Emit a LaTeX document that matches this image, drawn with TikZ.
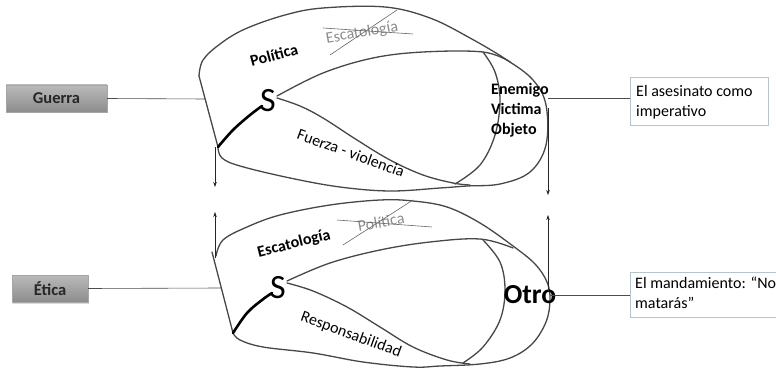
\documentclass[tikz,border=0pt]{standalone}
\usepackage{fontspec}
\setmainfont{Carlito}
\usetikzlibrary{arrows.meta,shadows}
\begin{document}
\begin{tikzpicture}[x=1pt,y=-1pt,
  contour/.style={draw=black!72, line width=1.3pt, line join=round, line cap=round},
  thickstroke/.style={draw=black, line width=2.6pt, line cap=round},
  txt/.style={font=\fontsize{16}{20}\selectfont, inner sep=0pt},
  btxt/.style={font=\fontsize{16}{20}\selectfont\bfseries, inner sep=0pt},
  gtxt/.style={font=\fontsize{16}{20}\selectfont, text=black!45, inner sep=0pt},
  gbox/.style={draw=black!35, top color=black!27, bottom color=black!45, minimum height=27pt,
     font=\fontsize{16.5}{20}\selectfont\bfseries, text=black!85, inner sep=0pt,
     drop shadow={shadow xshift=1pt, shadow yshift=-1.5pt, opacity=0.3}},
  wbox/.style={draw=black!12!cyan!25!gray!55, fill=white, line width=0.8pt},
  arr/.style={draw=black!85, line width=0.6pt, -{Stealth[length=5pt,width=3.5pt]}},
  conn/.style={draw=black!70, line width=0.6pt},
  cross/.style={draw=black!60, line width=0.6pt}
]
\useasboundingbox (0,0) rectangle (776,374);

% ---------- top shape (Guerra) ----------
\draw[contour] (218,147) -- (199,76);
\draw[contour] plot[smooth,tension=0.6] coordinates {(199,76) (203,60) (220,44) (245,29) (285,15) (323,8) (385,7) (430,18) (470,38) (507,60) (533,80) (546,105) (546,145) (530,172) (500,184) (467,186) (440,188) (390,191) (340,187) (290,178) (240,166) (222,158) (218,148)};
\draw[contour] plot[smooth,tension=0.6] coordinates {(277,96) (323,73) (373,58) (423,52) (483,52) (510,62)};
\draw[contour] plot[smooth,tension=0.6] coordinates {(277,98) (300,106) (323,118) (357,140) (390,160) (423,175) (453,183) (470,185)};
\draw[contour] plot[smooth,tension=0.6] coordinates {(483,52) (495,72) (500,100) (495,135) (480,165) (455,184)};
\draw[thickstroke] plot[smooth,tension=0.6] coordinates {(218,147) (233,130) (250,115) (262,106)};

\node[font=\fontsize{34}{34}\selectfont, inner sep=0pt] (s1) at (268,101) {S};
\node[btxt, rotate=15] (pol1) at (274,55) {Política};
\node[gtxt, rotate=10] (esc1) at (362,33) {Escatología};
\draw[cross] (323,28) -- (413,34);
\draw[cross] (330,55) -- (397,10);
\node[txt, rotate=-20] (fv) at (351,153) {Fuerza - violencia};
\node[btxt, anchor=west, align=left] (ene) at (491,110) {Enemigo\\Victima\\Objeto};

% ---------- bottom shape (Ética) ----------
\draw[contour] (233,333) -- (212,252);
\draw[contour] plot[smooth,tension=0.6] coordinates {(216,256) (223,240) (247,227) (280,215) (330,205) (380,200) (413,201) (447,207) (480,223) (513,246) (535,264) (547,282) (550,300) (546,322) (532,344) (510,358) (480,364) (440,366) (413,367) (363,362) (313,353) (263,347) (240,340) (233,333)};
\draw[contour] plot[smooth,tension=0.6] coordinates {(287,281) (330,263) (380,250) (430,242) (480,239) (513,248)};
\draw[contour] plot[smooth,tension=0.6] coordinates {(287,283) (313,291) (347,307) (380,327) (413,347) (447,360) (470,364)};
\draw[contour] plot[smooth,tension=0.6] coordinates {(483,240) (500,262) (505,290) (500,320) (483,347) (463,363)};
\draw[thickstroke] plot[smooth,tension=0.6] coordinates {(233,333) (247,313) (262,300) (272,293)};

\node[font=\fontsize{34}{34}\selectfont, inner sep=0pt] (s2) at (278,288) {S};
\node[btxt, rotate=14] (esc2) at (294,244) {Escatología};
\node[gtxt, rotate=10] (pol2) at (381,222) {Política};
\draw[cross] (337,220) -- (432,227);
\draw[cross] (343,245) -- (413,200);
\node[txt, rotate=-20] (resp) at (351,335) {Responsabilidad};
\node[font=\fontsize{27.5}{27.5}\selectfont\bfseries, inner sep=0pt] (otro) at (530,295) {Otro};

% ---------- boxes ----------
\node[gbox, minimum width=101pt] (guerra) at (56.5,98.5) {Guerra};
\node[gbox, minimum width=76pt] (etica) at (50,288.5) {Ética};
\node[wbox, minimum width=138pt, minimum height=48pt] (b1) at (699,101) {};
\node[txt, anchor=west, align=left] (t1) at (636,102) {El asesinato como\\imperativo};
\node[wbox, minimum width=160pt, minimum height=45pt] (b2) at (710,294.5) {};
\node[txt, anchor=west, align=left] (t2) at (635,293) {El mandamiento: “No\\matarás”};

% ---------- connectors ----------
\coordinate (gl) at (205,99);
\coordinate (el) at (221,288);
\coordinate (er) at (548,98);
\coordinate (orr) at (550,295);
\draw[conn] (guerra.east) -- (gl);
\draw[conn] (etica.east) -- (el);
\draw[conn] (er) -- (b1.west |- er);
\draw[conn] (orr) -- (b2.west |- orr);

\coordinate (a1s) at (215,147); \coordinate (a1e) at (215,187);
\coordinate (a2s) at (548,108); \coordinate (a2e) at (548,195);
\coordinate (a3s) at (215,258); \coordinate (a3e) at (215,212);
\coordinate (a4s) at (548,292); \coordinate (a4e) at (548,215);
\draw[arr] (a1s) -- (a1e);
\draw[arr] (a2s) -- (a2e);
\draw[arr] (a3s) -- (a3e);
\draw[arr] (a4s) -- (a4e);
\end{tikzpicture}
\end{document}
